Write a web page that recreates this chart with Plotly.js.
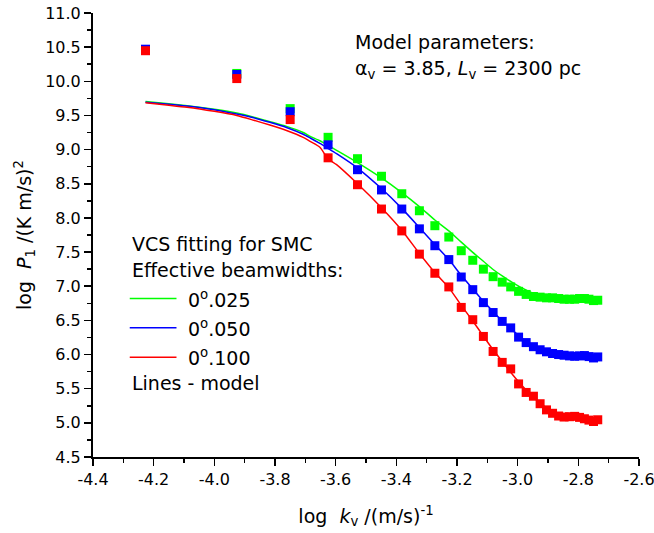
<!DOCTYPE html>
<html>
<head>
<meta charset="utf-8">
<script src="https://cdn.plot.ly/plotly-3.0.1.min.js"></script>
<style>
html,body{margin:0;padding:0;background:#fff;}
#chart{width:654px;height:533px;}
</style>
</head>
<body>
<div id="chart"></div>
<script>
// ---- data ----
const logK = [-4.227, -3.926, -3.750, -3.625, -3.528, -3.449, -3.382, -3.324, -3.273, -3.227,
  -3.186, -3.148, -3.113, -3.081, -3.051, -3.023, -2.997, -2.972, -2.948, -2.926,
  -2.905, -2.885, -2.865, -2.847, -2.829, -2.812, -2.796, -2.780, -2.765, -2.750, -2.736];

const obs025 = [10.46, 10.115, 9.60, 9.18, 8.867, 8.61, 8.354, 8.105, 7.886, 7.72,
  7.52, 7.38, 7.25, 7.14, 7.06, 6.99, 6.925, 6.88, 6.85, 6.84,
  6.83, 6.83, 6.82, 6.81, 6.81, 6.81, 6.82, 6.82, 6.81, 6.79, 6.795];
const obs050 = [10.47, 10.10, 9.555, 9.07, 8.706, 8.41, 8.13, 7.84, 7.593, 7.39,
  7.135, 6.95, 6.76, 6.615, 6.485, 6.39, 6.255, 6.175, 6.115, 6.07,
  6.04, 6.015, 6.0, 5.99, 5.98, 5.975, 5.98, 5.985, 5.97, 5.95, 5.965];
const obs100 = [10.448, 10.04, 9.44, 8.88, 8.486, 8.13, 7.81, 7.47, 7.19, 6.99,
  6.69, 6.51, 6.265, 6.045, 5.885, 5.79, 5.57, 5.445, 5.39, 5.28,
  5.19, 5.14, 5.10, 5.085, 5.09, 5.095, 5.08, 5.06, 5.04, 5.02, 5.045];

const modelK = [-4.227, -4.15, -4.09, -4.0, -3.926, -3.87, -3.817, -3.762, -3.707, -3.684,
  -3.652, -3.626, -3.597, -3.528, -3.449, -3.382, -3.324, -3.273, -3.227, -3.186,
  -3.148, -3.113, -3.081, -3.051, -3.023, -2.997, -2.972, -2.948, -2.926, -2.905,
  -2.885, -2.865, -2.847, -2.829, -2.812, -2.796, -2.780, -2.765, -2.750, -2.736];
const model025 = [9.705, 9.67, 9.643, 9.59, 9.535, 9.475, 9.41, 9.34, 9.25, 9.195,
  9.13, 9.065, 8.99, 8.81, 8.585, 8.37, 8.165, 7.97, 7.81, 7.645,
  7.495, 7.365, 7.245, 7.15, 7.07, 7.0, 6.945, 6.895, 6.865, 6.845,
  6.835, 6.828, 6.822, 6.818, 6.814, 6.811, 6.808, 6.806, 6.804, 6.802];
const model050 = [9.695, 9.665, 9.637, 9.583, 9.52, 9.465, 9.40, 9.325, 9.225, 9.17,
  9.09, 9.02, 8.94, 8.73, 8.43, 8.14, 7.86, 7.61, 7.39, 7.16,
  6.96, 6.78, 6.63, 6.49, 6.38, 6.28, 6.19, 6.125, 6.075, 6.04,
  6.02, 6.005, 5.995, 5.988, 5.982, 5.978, 5.974, 5.971, 5.968, 5.966];
const model100 = [9.685, 9.65, 9.62, 9.56, 9.50, 9.43, 9.36, 9.28, 9.18, 9.12,
  9.035, 8.87, 8.78, 8.50, 8.15, 7.82, 7.48, 7.20, 6.98, 6.72,
  6.49, 6.27, 6.07, 5.90, 5.74, 5.60, 5.48, 5.38, 5.29, 5.22,
  5.17, 5.13, 5.10, 5.08, 5.065, 5.055, 5.048, 5.042, 5.037, 5.033];

const seriesNames = ["0<sup>o</sup>.025", "0<sup>o</sup>.050", "0<sup>o</sup>.100"];
const seriesColors = ["#00ff00", "#0000ff", "#ff0000"];

const xTickVals = [-4.4, -4.2, -4.0, -3.8, -3.6, -3.4, -3.2, -3.0, -2.8, -2.6];
const xTickText = ["-4.4", "-4.2", "-4.0", "-3.8", "-3.6", "-3.4", "-3.2", "-3.0", "-2.8", "-2.6"];
const yTickVals = [4.5, 5.0, 5.5, 6.0, 6.5, 7.0, 7.5, 8.0, 8.5, 9.0, 9.5, 10.0, 10.5, 11.0];
const yTickText = ["4.5", "5.0", "5.5", "6.0", "6.5", "7.0", "7.5", "8.0", "8.5", "9.0", "9.5", "10.0", "10.5", "11.0"];

// ---- build traces ----
const FONT = "DejaVu Sans, Arial, sans-serif";
const models = [model025, model050, model100];
const obs = [obs025, obs050, obs100];
const traces = [];
for (let i = 0; i < 3; i++) {
  traces.push({
    x: modelK, y: models[i], type: "scatter", mode: "lines",
    line: {color: seriesColors[i], width: 1.5, shape: "spline", smoothing: 0.6},
    name: seriesNames[i], showlegend: false, hoverinfo: "skip"
  });
}
for (let i = 0; i < 3; i++) {
  traces.push({
    x: logK, y: obs[i], type: "scatter", mode: "markers",
    marker: {color: seriesColors[i], symbol: "square", size: 9, line: {width: 0}},
    name: seriesNames[i], showlegend: false
  });
}

// key (drawn in paper coordinates)
const px = v => (v - 93.3) / 545.4;
const py = v => (457.5 - v) / 444.2;
const keyY = [299, 328.3, 357.7];
const shapes = [];
const annotations = [];
const txt = (text, x, y) => ({
  text: text, xref: "paper", yref: "paper", x: px(x), y: py(y),
  xanchor: "left", yanchor: "middle", showarrow: false,
  font: {family: FONT, size: 19, color: "#000"}
});
annotations.push(txt("Model parameters:", 353, 42));
annotations.push(txt("α<sub>v</sub> = 3.85, <i>L</i><sub>v</sub> = 2300 pc", 353, 70));
annotations.push(txt("VCS fitting for SMC", 130, 244));
annotations.push(txt("Effective beamwidths:", 130, 270));
for (let i = 0; i < 3; i++) {
  shapes.push({type: "line", xref: "paper", yref: "paper",
    x0: px(130), x1: px(176.7), y0: py(keyY[i]), y1: py(keyY[i]),
    line: {color: seriesColors[i], width: 1.5}});
  annotations.push(txt(seriesNames[i], 186, keyY[i]));
}
annotations.push(txt("Lines - model", 130, 383.3));

const axisCommon = {
  showline: true, linecolor: "#000", linewidth: 2, mirror: false,
  ticks: "outside", ticklen: 7, tickwidth: 1.5, tickcolor: "#000",
  showgrid: false, zeroline: false,
  tickfont: {family: FONT, size: 16, color: "#000"},
  tickmode: "array", ticklabeloverflow: "allow"
};

const layout = {
  width: 654, height: 533,
  margin: {l: 93, r: 15, t: 13, b: 76, pad: 0},
  paper_bgcolor: "#fff", plot_bgcolor: "#fff",
  showlegend: false,
  font: {family: FONT, color: "#000"},
  xaxis: Object.assign({}, axisCommon, {
    range: [-4.4, -2.6], tickvals: xTickVals, ticktext: xTickText,
    minor: {dtick: 0.1, tick0: -4.4, ticks: "outside", ticklen: 4, tickwidth: 1.5, tickcolor: "#000", showgrid: false},
    title: {text: "log\u00a0 <i>k</i><sub>v</sub> /(m/s)<sup>-1</sup>", font: {family: FONT, size: 19, color: "#000"}, standoff: 21}
  }),
  yaxis: Object.assign({}, axisCommon, {
    range: [4.5, 11.0], tickvals: yTickVals, ticktext: yTickText,
    minor: {dtick: 0.25, tick0: 4.5, ticks: "outside", ticklen: 4, tickwidth: 1.5, tickcolor: "#000", showgrid: false},
    title: {text: "log\u00a0 <i>P</i><sub>1</sub> /(K m/s)<sup>2</sup>", font: {family: FONT, size: 19, color: "#000"}, standoff: 9}
  }),
  shapes: shapes,
  annotations: annotations
};

Plotly.newPlot("chart", traces, layout, {displayModeBar: false, staticPlot: true});
</script>
</body>
</html>
